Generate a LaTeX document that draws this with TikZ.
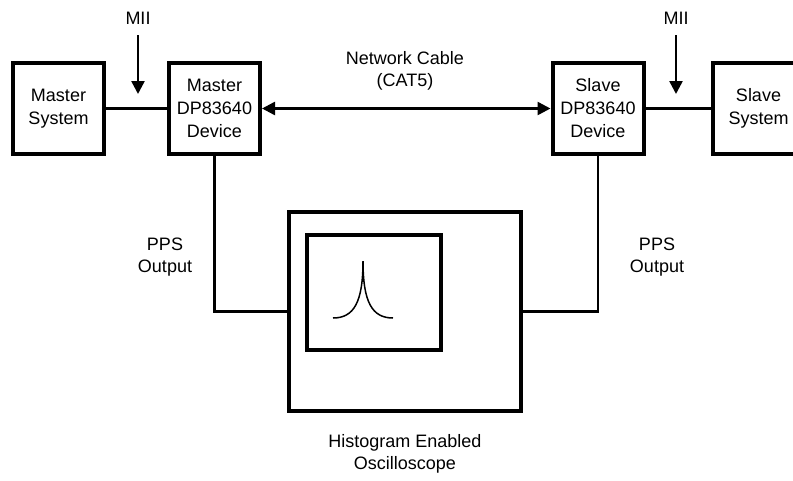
\documentclass[tikz,border=0pt]{standalone}
\usepackage{fontspec}
\setmainfont{Liberation Sans}
\usetikzlibrary{arrows.meta}
\begin{document}
\begin{tikzpicture}[x=1pt,y=-1pt,
  box/.style={draw,line width=4pt,minimum width=91pt,minimum height=91pt,inner sep=0pt,align=center,font=\fontsize{18}{23}\selectfont},
  lbl/.style={align=center,font=\fontsize{18}{22.5}\selectfont,inner sep=0pt},
  wire/.style={line width=2.5pt},
  tip/.style={-{Triangle[length=13pt,width=13pt]}}]
\useasboundingbox (0,0) rectangle (793,480);
\clip (0,0) rectangle (793,480);
\node[box] (ms) at (58.5,108.5) {Master\\System};
\node[box] (mdp) at (214.5,108.5) {Master\\DP83640\\Device};
\node[box] (sdp) at (598,108.5) {Slave\\DP83640\\Device};
\node[box] (ss) at (758.5,108.5) {Slave\\System};
\node[draw,line width=4pt,minimum width=232pt,minimum height=199pt,inner sep=0pt] (osc) at (405,311.5) {};
\node[draw,line width=4pt,minimum width=134pt,minimum height=115pt,inner sep=0pt] (scr) at (374,292.5) {};
\draw[line width=1.5pt] (333,318) .. controls (354,318) and (363,302) .. (363,261)
  .. controls (363,302) and (372,318) .. (393,318);
\draw[wire] (ms) -- (mdp);
\draw[wire] (sdp) -- (ss);
\draw[wire,{Triangle[length=13pt,width=13pt]}-{Triangle[length=13pt,width=13pt]}] (mdp.east) -- (sdp.west);
\coordinate (m1) at (138,35); \coordinate (m1e) at (138,94);
\coordinate (m2) at (676,35); \coordinate (m2e) at (676,94);
\draw[wire,tip] (m1) -- (m1e);
\draw[wire,tip] (m2) -- (m2e);
\draw[wire] (mdp.south) |- (osc.west);
\draw[wire] (sdp.south) |- (osc.east);
\node[lbl] (mii1) at (138,18) {MII};
\node[lbl] (mii2) at (676,18) {MII};
\node[lbl] (nc) at (405,71) {Network Cable\\(CAT5)};
\node[lbl] (pps1) at (165,257) {PPS\\Output};
\node[lbl] (pps2) at (657,257) {PPS\\Output};
\node[lbl] (hist) at (405,454) {Histogram Enabled\\Oscilloscope};
\end{tikzpicture}
\end{document}
